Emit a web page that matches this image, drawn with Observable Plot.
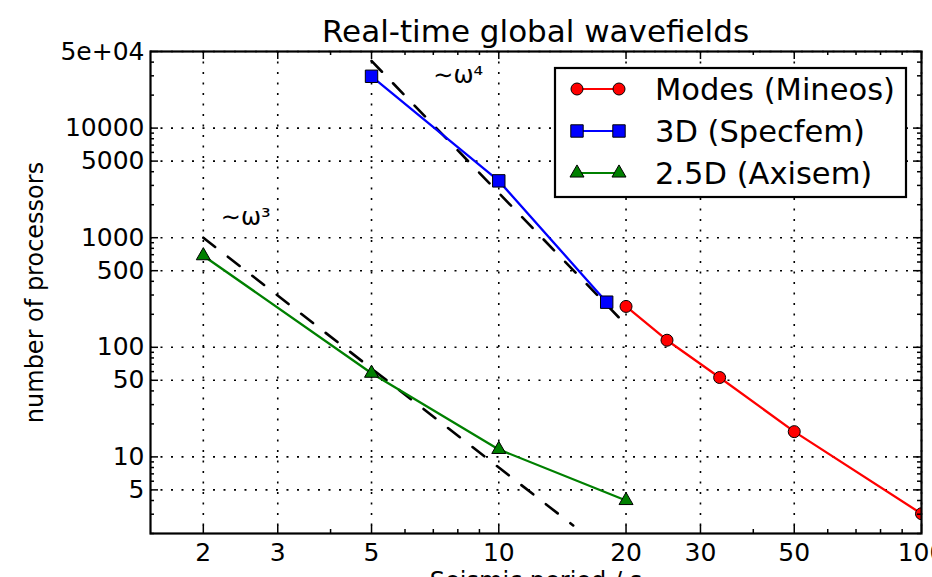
<!DOCTYPE html>
<html><head><meta charset="utf-8">
<script src="https://cdn.jsdelivr.net/npm/d3@7"></script>
<script src="https://cdn.jsdelivr.net/npm/@observablehq/plot@0.6"></script>
<style>
html,body{margin:0;padding:0;background:#fff;}
#wrap{position:relative;width:932px;height:577px;overflow:hidden;font-family:"DejaVu Sans",sans-serif;background:#fff;}
#title{position:absolute;left:150px;width:771px;top:16px;text-align:center;font-size:31px;line-height:30px;color:#000;white-space:nowrap;}
#legend{position:absolute;left:554px;top:67px;}
#chart{position:absolute;left:0;top:0;}
</style></head><body>
<div id="wrap"><div id="chart"></div><div id="title">Real-time global wavefields</div><div id="legend"></div></div>
<script>
// ---- data ----
const xTickValues = [2, 3, 5, 10, 20, 30, 50, 100];
const xTickLabels = ["2", "3", "5", "10", "20", "30", "50", "100"];
const xMinorTicks = [4, 6, 7, 8, 9, 40, 60, 70, 80, 90];
const yTickValues = [5, 10, 50, 100, 500, 1000, 5000, 10000, 50000];
const yTickLabels = ["5", "10", "50", "100", "500", "1000", "5000", "10000", "5e+04"];
const yMinorTicks = [2, 3, 4, 6, 7, 8, 9, 20, 30, 40, 60, 70, 80, 90, 200, 300, 400, 600, 700, 800, 900,
  2000, 3000, 4000, 6000, 7000, 8000, 9000, 20000, 30000, 40000];

const seriesNames = ["Modes (Mineos)", "3D (Specfem)", "2.5D (Axisem)"];
const seriesColors = ["#ff0000", "#0000ff", "#008000"];
const seriesSymbols = ["circle", "square", "triangle"];
const seriesRadius = [6, 7, 5.2];

const modesPeriod = [20, 25, 33.3, 50, 100];
const modesProcs = [236, 116, 53, 17, 3.03];
const specfemPeriod = [5, 10, 18];
const specfemProcs = [29700, 3300, 258];
const axisemPeriod = [2, 5, 10, 20];
const axisemProcs = [685, 58, 11.7, 4.0];

const slope3Period = [2, 15];
const slope3Procs = [1000, 2.37];
const slope4Period = [5, 20];
const slope4Procs = [41000, 160];

const annotLabels = ["∼ω³", "∼ω⁴"];
const annotPeriod = [2.2, 7.0];
const annotProcs = [1550, 30300];

// ---- build tables ----
const zip = (xs, ys) => xs.map((x, i) => ({p: x, n: ys[i]}));
const seriesData = [zip(modesPeriod, modesProcs), zip(specfemPeriod, specfemProcs), zip(axisemPeriod, axisemProcs)];
const slopes = [zip(slope3Period, slope3Procs), zip(slope4Period, slope4Procs)];
const annots = annotLabels.map((t, i) => ({t, p: annotPeriod[i], n: annotProcs[i]}));
const xTicks = xTickValues.map((v, i) => ({v, label: xTickLabels[i]}));
const yTicks = yTickValues.map((v, i) => ({v, label: yTickLabels[i]}));

const W = 932, H = 577, ML = 150, MR = 11, MT = 51, MB = 44;
const FW = W - ML - MR, FH = H - MT - MB;
const MAJ = 8, MIN = 4;
const gridStyle = {stroke: "black", strokeOpacity: 1, strokeWidth: 1.6, strokeDasharray: "2,8.5"};

const marks = [
  Plot.gridX(xTickValues, gridStyle),
  Plot.gridY(yTickValues, gridStyle),
  ...slopes.map(s => Plot.line(s, {x: "p", y: "n", stroke: "black", strokeWidth: 2.6, strokeDasharray: "15,16", clip: true})),
];
seriesData.forEach((d, i) => {
  marks.push(Plot.line(d, {x: "p", y: "n", stroke: seriesColors[i], strokeWidth: 2.3, clip: true}));
});
seriesData.forEach((d, i) => {
  marks.push(Plot.dot(d, {x: "p", y: "n", symbol: () => seriesSymbols[i], r: seriesRadius[i], fill: seriesColors[i], stroke: "black", strokeWidth: 1, clip: true}));
});
marks.push(
  Plot.text(annots, {x: "p", y: "n", text: "t", textAnchor: "start", lineAnchor: "middle", fontSize: 24, fill: "black"}),
  // ticks (inward, matplotlib-style)
  Plot.tickX(xTickValues, {x: d => d, insetTop: FH - MAJ, stroke: "black", strokeWidth: 1.5}),
  Plot.tickX(xTickValues, {x: d => d, insetBottom: FH - MAJ, stroke: "black", strokeWidth: 1.5}),
  Plot.tickX(xMinorTicks, {x: d => d, insetTop: FH - MIN, stroke: "black", strokeWidth: 1.5}),
  Plot.tickX(xMinorTicks, {x: d => d, insetBottom: FH - MIN, stroke: "black", strokeWidth: 1.5}),
  Plot.tickY(yTickValues, {y: d => d, insetRight: FW - MAJ, stroke: "black", strokeWidth: 1.5}),
  Plot.tickY(yTickValues, {y: d => d, insetLeft: FW - MAJ, stroke: "black", strokeWidth: 1.5}),
  Plot.tickY(yMinorTicks, {y: d => d, insetRight: FW - MIN, stroke: "black", strokeWidth: 1.5}),
  Plot.tickY(yMinorTicks, {y: d => d, insetLeft: FW - MIN, stroke: "black", strokeWidth: 1.5}),
  Plot.frame({stroke: "black", strokeWidth: 2.2}),
  // tick labels
  Plot.text(xTicks, {x: "v", text: "label", frameAnchor: "bottom", lineAnchor: "top", textAnchor: "middle", dy: 10, fontSize: 25, fill: "black"}),
  Plot.text(yTicks, {y: "v", text: "label", frameAnchor: "left", lineAnchor: "middle", textAnchor: "end", dx: -6, fontSize: 25, fill: "black"}),
  // axis titles
  Plot.text(["Seismic period / s"], {frameAnchor: "bottom", dy: 38, lineAnchor: "top", textAnchor: "middle", fontSize: 24, fill: "black"}),
  Plot.text(["number of processors"], {frameAnchor: "left", dx: -115, rotate: -90, lineAnchor: "middle", textAnchor: "middle", fontSize: 24, fill: "black"})
);

const chart = Plot.plot({
  width: W, height: H, marginLeft: ML, marginRight: MR, marginTop: MT, marginBottom: MB,
  style: {fontFamily: "DejaVu Sans", fontSize: "24px", color: "black", background: "white"},
  x: {type: "log", domain: [1.5, 100], axis: null},
  y: {type: "log", domain: [2, 50000], axis: null},
  marks
});
document.getElementById("chart").appendChild(chart);

// ---- legend ----
const LW = 353, LH = 131;
const leg = d3.select("#legend").append("svg").attr("width", LW).attr("height", LH)
  .style("font-family", "DejaVu Sans").style("overflow", "visible");
leg.append("rect").attr("x", 1).attr("y", 1).attr("width", LW - 2).attr("height", LH - 2)
  .attr("fill", "white").attr("stroke", "black").attr("stroke-width", 2.2);
const symMap = {circle: d3.symbolCircle, square: d3.symbolSquare, triangle: d3.symbolTriangle};
seriesNames.forEach((name, i) => {
  const cy = 22 + i * 42;
  const g = leg.append("g");
  g.append("line").attr("x1", 23).attr("x2", 65).attr("y1", cy).attr("y2", cy)
    .attr("stroke", seriesColors[i]).attr("stroke-width", 2);
  [23, 65].forEach(cx => {
    g.append("path").attr("d", d3.symbol(symMap[seriesSymbols[i]], Math.PI * seriesRadius[i] ** 2)())
      .attr("transform", `translate(${cx},${cy})`).attr("fill", seriesColors[i])
      .attr("stroke", "black").attr("stroke-width", 1);
  });
  g.append("text").attr("x", 101).attr("y", cy + 10.5).attr("font-size", 30.5).attr("fill", "black").text(name);
});
</script>
</body></html>
